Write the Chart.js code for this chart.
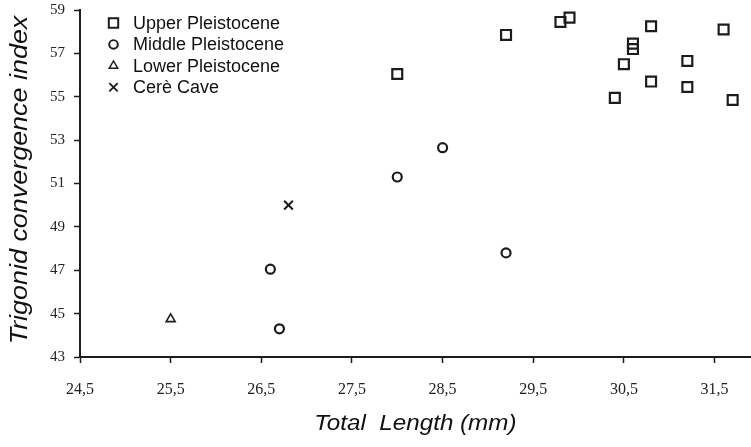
<!DOCTYPE html>
<html>
<head>
<meta charset="utf-8">
<script src="https://cdn.jsdelivr.net/npm/chart.js@4/dist/chart.umd.min.js"></script>
<style>
  html, body { margin: 0; padding: 0; background: #fff; overflow: hidden; }
  /* the x axis runs off the right edge of the original crop */
  #wrap { width: 760px; height: 447px; position: relative; }
</style>
</head>
<body>
<div id="wrap"><canvas id="chart"></canvas></div>
<script>
// values
var upperX = [28.0, 29.2, 29.8, 29.9, 30.8, 31.6, 30.6, 30.6, 30.5, 31.2, 30.8, 31.2, 30.4, 31.7];
var upperY = [56.05, 57.85, 58.45, 58.65, 58.25, 58.1, 57.45, 57.2, 56.5, 56.65, 55.7, 55.45, 54.95, 54.85];
var middleX = [28.0, 28.5, 26.6, 26.7, 29.2];
var middleY = [51.3, 52.65, 47.05, 44.3, 47.8];
var lowerX = [25.5];
var lowerY = [44.75];
var cereX = [26.8];
var cereY = [50.0];
var xTicks = [24.5, 25.5, 26.5, 27.5, 28.5, 29.5, 30.5, 31.5];
var seriesNames = ["Upper Pleistocene", "Middle Pleistocene", "Lower Pleistocene", "Cerè Cave"];
var xTitle = "Total  Length (mm)";
var yTitle = "Trigonid convergence index";

var ink = "#1c1c1c";
var sans = "'Liberation Sans', Arial, sans-serif";
var serif = "'Liberation Serif', 'Times New Roman', serif";

var toPoints = function (xs, ys) {
    return xs.map(function (x, i) { return { x: x, y: ys[i] }; });
};

var makeSet = function (label, xs, ys, style, radius, bw) {
    return {
        label: label,
        data: toPoints(xs, ys),
        pointStyle: style,
        pointRadius: radius,
        pointHoverRadius: radius,
        pointBorderWidth: bw,
        pointBorderColor: ink,
        pointBackgroundColor: "rgba(0,0,0,0)",
        borderColor: ink,
        backgroundColor: "rgba(0,0,0,0)",
        clip: false
    };
};

// legend drawn inside the plot, top left
var innerLegend = {
    id: "innerLegend",
    afterDraw: function (chart) {
        var ctx = chart.ctx;
        ctx.save();
        chart.data.datasets.forEach(function (ds, i) {
            var y = 23 + i * 21.4;
            ctx.strokeStyle = ink;
            ctx.fillStyle = "rgba(0,0,0,0)";
            ctx.lineWidth = ds.pointBorderWidth * 0.9;
            Chart.helpers.drawPoint(ctx, {
                pointStyle: ds.pointStyle,
                radius: ds.pointRadius * 0.95,
                rotation: 0,
                borderWidth: ds.pointBorderWidth * 0.9
            }, 113.5, y);
            ctx.fillStyle = "#111";
            ctx.font = "18px " + sans;
            ctx.textBaseline = "middle";
            ctx.textAlign = "left";
            ctx.fillText(ds.label, 133, y + 1);
        });
        ctx.restore();
    }
};

// axis titles, the original lettering is a little stretched along its length
var axisTitles = {
    id: "axisTitles",
    afterDraw: function (chart) {
        var ctx = chart.ctx;
        var area = chart.chartArea;
        ctx.save();
        ctx.fillStyle = "#111";
        ctx.textAlign = "center";
        ctx.textBaseline = "middle";

        ctx.save();
        ctx.font = "italic 22px " + sans;
        ctx.translate((area.left + area.right) / 2, 424);
        ctx.scale(1.1, 1);
        ctx.fillText(xTitle, 0, 0);
        ctx.restore();

        ctx.save();
        ctx.font = "italic 23px " + sans;
        ctx.translate(21, 180);
        ctx.rotate(-Math.PI / 2);
        ctx.scale(1.17, 1);
        ctx.fillText(yTitle, 0, 0);
        ctx.restore();

        ctx.restore();
    }
};

new Chart(document.getElementById("chart"), {
    type: "scatter",
    data: {
        datasets: [
            makeSet(seriesNames[0], upperX, upperY, "rect", 7, 2.2),
            makeSet(seriesNames[1], middleX, middleY, "circle", 4.5, 2.2),
            makeSet(seriesNames[2], lowerX, lowerY, "triangle", 5.2, 1.6),
            makeSet(seriesNames[3], cereX, cereY, "crossRot", 6.2, 2)
        ]
    },
    options: {
        responsive: true,
        maintainAspectRatio: false,
        animation: false,
        layout: { padding: { top: 10, right: 0, bottom: 0, left: 0 } },
        plugins: {
            legend: { display: false },
            tooltip: { enabled: false }
        },
        scales: {
            x: {
                type: "linear",
                min: 24.5,
                max: 31.9,
                afterBuildTicks: function (scale) {
                    scale.ticks = xTicks.map(function (v) { return { value: v }; });
                },
                afterFit: function (scale) {
                    scale.height = 90;
                },
                border: { display: true, color: ink, width: 2 },
                grid: { display: true, drawOnChartArea: false, drawTicks: true, tickLength: 6, tickColor: ink, tickWidth: 1.5 },
                ticks: {
                    color: "#222",
                    padding: 17,
                    maxRotation: 0,
                    font: { family: serif, size: 16 },
                    callback: function (v) { return Number(v).toFixed(1).replace(".", ","); }
                },
                title: { display: false, text: xTitle }
            },
            y: {
                type: "linear",
                min: 43,
                max: 59,
                ticks: {
                    stepSize: 2,
                    color: "#222",
                    padding: 9,
                    font: { family: serif, size: 15 }
                },
                afterFit: function (scale) {
                    scale.width = 80;
                    scale.paddingTop = 0;
                    scale.paddingBottom = 0;
                },
                border: { display: true, color: ink, width: 2 },
                grid: { display: true, drawOnChartArea: false, drawTicks: true, tickLength: 6, tickColor: ink, tickWidth: 1.5 },
                title: { display: false, text: yTitle }
            }
        }
    },
    plugins: [innerLegend, axisTitles]
});
</script>
</body>
</html>
